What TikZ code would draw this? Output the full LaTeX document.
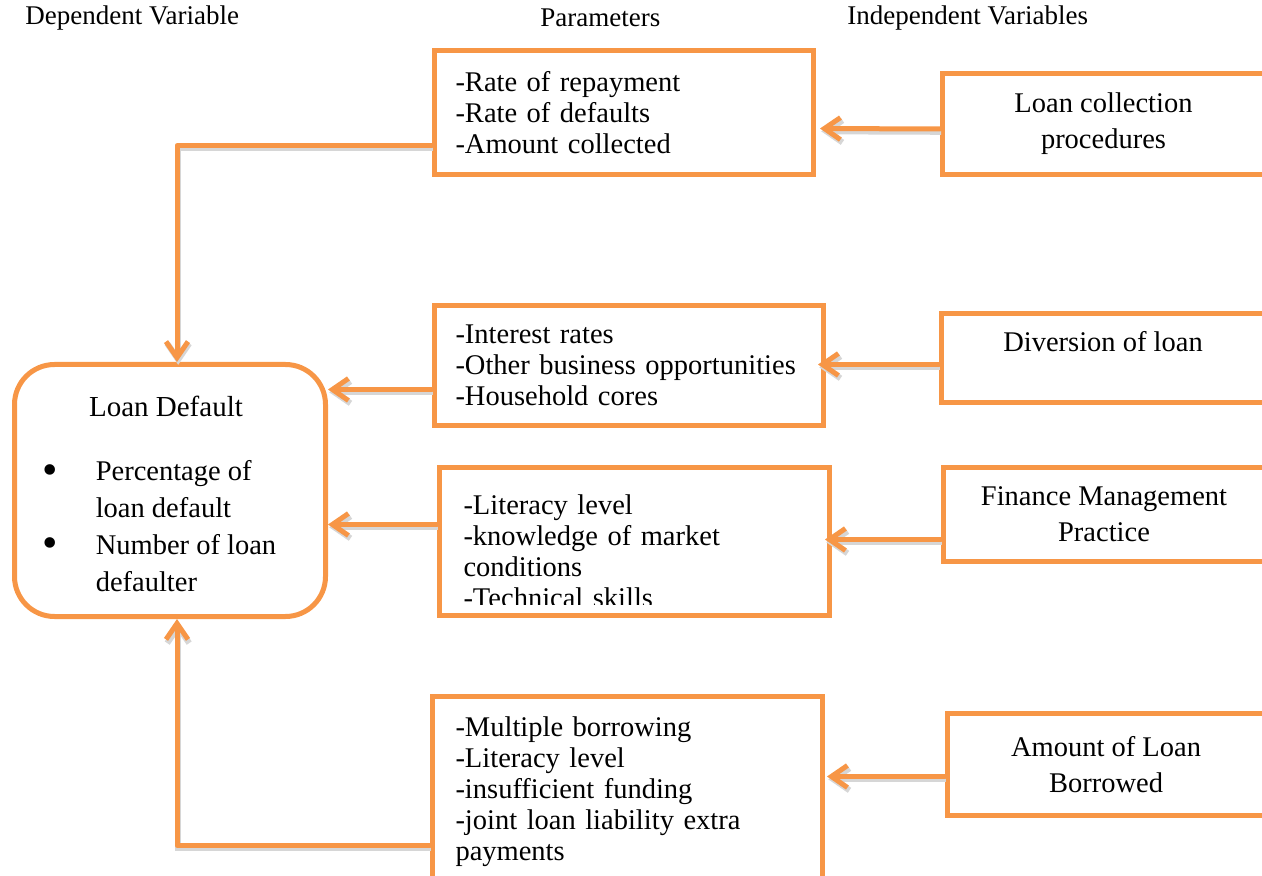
\documentclass[tikz,border=0pt]{standalone}
\usepackage{fontspec}
\setmainfont{Liberation Serif}
\usetikzlibrary{arrows.meta,calc}
\definecolor{linkOrange}{HTML}{F79646}
\tikzset{%
  >={Straight Barb[length=8pt,width=11pt]},
  % Specifications for style of nodes:
     base/.style = {rectangle, draw=linkOrange, line width=2.5pt, inner sep=0pt,
                    anchor=north west, font=\fontsize{14.25}{15.5}\selectfont},
    heading/.style = {anchor=west, inner sep=0pt, font=\fontsize{13.5}{16}\selectfont},
    parameterBox/.style = {base, align=left, inner xsep=10.5pt},
    variableBox/.style = {base, align=center, font=\fontsize{14.25}{18}\selectfont},
    outcomeBox/.style = {base, rounded corners=20pt},
    link/.style = {draw=linkOrange, line width=2.5pt, line cap=round, line join=round,
                   preaction={draw=black!16, line width=3pt,
                              transform canvas={shift={(0.6pt,-1.4pt)}}}},
}
\newcommand{\bigBullet}{\hspace*{-6.5pt}\raisebox{-1.8pt}{\fontsize{22}{15}\selectfont\textbullet}}

\begin{document}
\begin{tikzpicture}[x=0.5pt, y=-0.5pt]
  \useasboundingbox (0,0) rectangle (1262,876);
  \clip (0,0) rectangle (1262,876);
  % Column headings
  \node (depHead) [heading] at (25,18) {Dependent Variable};
  \node (parHead) [heading] at (540,18) {Parameters};
  \node (indHead) [heading] at (847,18) {Independent Variables};

  % Specification of nodes (position, etc.)
  \node (loanDefault) [outcomeBox, minimum width=155.5pt, minimum height=126pt] at (12,362)
        {\renewcommand{\arraystretch}{1.19}%
         \begin{tabular}{@{}p{20pt}@{}l@{}}
           \multicolumn{2}{c}{\fontsize{14.5}{15.5}\selectfont Loan Default}\\[13.5pt]
           \bigBullet & Percentage of\\
                      & loan default\\
           \bigBullet & Number of loan\\
                      & defaulter\\[-6pt]
         \end{tabular}\hspace*{4pt}};

  \node (collectParams) [parameterBox, text width=168.5pt, minimum height=62pt] at (432,48)
        {-Rate of repayment\\ -Rate of defaults\\ -Amount collected};
  \node (diversionParams) [parameterBox, text width=173.5pt, minimum height=60pt] at (432,303)
        {-Interest rates\\ -Other business opportunities\\ -Household cores};
  \node (financeParams) [base, minimum width=195pt, minimum height=74pt] at (437,465) {};
  \begin{scope}
    \clip (financeParams.north west) rectangle ($(financeParams.south east)+(0,-14)$);
    \node (financeItems) [anchor=center, inner sep=0pt, text width=171pt, align=left,
                          font=\fontsize{14.25}{15.5}\selectfont]
          at ($(financeParams.center)+(0,10)$)
          {-Literacy level\\ -knowledge of market\\ conditions\\ -Technical skills};
  \end{scope}
  \node (amountParams) [parameterBox, inner xsep=11.5pt, text width=172pt, minimum height=95pt] at (430,694)
        {-Multiple borrowing\\ -Literacy level\\ -insufficient funding\\ -joint loan liability extra\\ payments};

  \node (collection) [variableBox, minimum width=161pt, minimum height=50.5pt] at (940,71)
        {Loan collection\\ procedures};
  \node (diversion) [variableBox, minimum width=161.5pt, minimum height=44.5pt,
                     text height=10pt, text depth=16.7pt] at (939,311)
        {Diversion of loan};
  \node (finance) [variableBox, minimum width=160.5pt, minimum height=47pt] at (941,465)
        {Finance Management\\ Practice};
  \node (amount) [variableBox, minimum width=158.5pt, minimum height=51pt] at (945,711)
        {Amount of Loan\\ Borrowed};

  % Specification of lines between nodes specified above
  \draw[link, ->, shorten >=2pt] ($(collection.west)+(0,5)$) -- ($(collectParams.east)+(0,16)$);
  \draw[link, ->, shorten >=-4pt] ($(diversion.west)+(0,6.5)$) -- ($(diversionParams.east)+(0,-1)$);
  \draw[link, ->, shorten >=-3.5pt] ($(finance.west)+(0,25)$) -- ($(financeParams.east)+(0,-2)$);
  \draw[link, ->, shorten >=1pt] ($(amount.west)+(0,12)$) -- ($(amountParams.east)+(0,-15)$);

  \draw[link, ->] ($(collectParams.west)+(0,33)$) -| ($(loanDefault.north)+(7,0)$);
  \draw[link, ->] ($(diversionParams.west)+(0,24)$) -- ($(loanDefault.east)+(0,-101)$);
  \draw[link, ->] ($(financeParams.west)+(0,-17)$) -- ($(loanDefault.east)+(0,34)$);
  \draw[link, ->] ($(amountParams.west)+(0,54)$) -| ($(loanDefault.south)+(7,0)$);
\end{tikzpicture}
\end{document}
